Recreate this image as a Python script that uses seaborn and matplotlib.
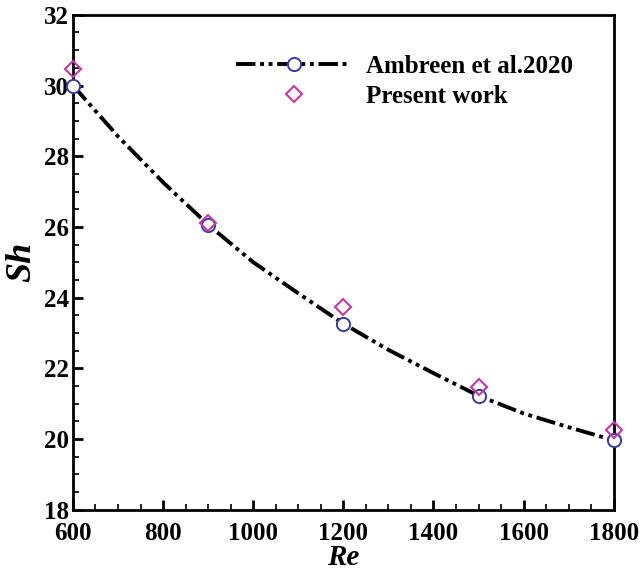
import matplotlib
matplotlib.use("Agg")
import matplotlib.pyplot as plt
from matplotlib.lines import Line2D
from matplotlib.ticker import MultipleLocator
import seaborn as sns
import pandas as pd

# Reference data (Ambreen et al. 2020) - markers
re_ref = [600, 900, 1200, 1500, 1800]
sh_ref = [30.0, 26.06, 23.26, 21.22, 19.96]

# Curve of the reference correlation
re_curve = [600, 700, 800, 900, 1000, 1100, 1200, 1300, 1400, 1500, 1600, 1700, 1800]
sh_curve = [30.0, 28.56, 27.26, 26.06, 25.0, 24.12, 23.26, 22.52, 21.86, 21.22, 20.72, 20.33, 19.96]

# Present work
re_pw = [600, 900, 1200, 1500, 1800]
sh_pw = [30.48, 26.12, 23.74, 21.48, 20.24]

sns.set_style("ticks")
plt.rcParams['font.family'] = ['Liberation Serif', 'DejaVu Serif']
plt.rcParams['font.weight'] = 'bold'
plt.rcParams['text.color'] = 'black'
plt.rcParams['axes.labelcolor'] = 'black'
plt.rcParams['xtick.color'] = 'black'
plt.rcParams['ytick.color'] = 'black'
plt.rcParams['axes.edgecolor'] = 'black'

fig = plt.figure(figsize=(6.4, 5.7), dpi=100)
ax = fig.add_axes([0.114, 0.106, 0.845, 0.868])

ls = (0, (5, 1.2, 1, 1.2, 1, 1.2))
blue = "#3a3aa0"
mag = "#c03aa0"

df_curve = pd.DataFrame({"Re": re_curve, "Sh": sh_curve})
sns.lineplot(data=df_curve, x="Re", y="Sh", ax=ax, color="black", lw=2.8,
             linestyle=ls, sort=True, legend=False)

ax.plot(re_ref, sh_ref, linestyle="none", marker="o", ms=9.5, mfc="white",
        mec=blue, mew=1.4, zorder=3)
ax.plot(re_pw, sh_pw, linestyle="none", marker="D", ms=8, mfc="none",
        mec=mag, mew=1.5, zorder=4)
for l in ax.lines[-2:]:
    l.set_clip_on(False)

ax.set_xlim(600, 1800)
ax.set_ylim(18, 32)
ax.xaxis.set_major_locator(MultipleLocator(200))
ax.xaxis.set_minor_locator(MultipleLocator(50))
ax.yaxis.set_major_locator(MultipleLocator(2))
ax.yaxis.set_minor_locator(MultipleLocator(0.5))
ax.tick_params(axis='both', which='major', direction='in', length=7, width=2,
               labelsize=18, top=False, right=False)
ax.tick_params(axis='x', which='major', pad=9)
ax.tick_params(axis='y', which='major', pad=3)
ax.tick_params(axis='both', which='minor', direction='in', length=4, width=1.2,
               top=False, right=False)
for lab in ax.get_xticklabels() + ax.get_yticklabels():
    lab.set_fontweight('bold')
for sp in ax.spines.values():
    sp.set_linewidth(2)
    sp.set_visible(True)

ax.set_xlabel("Re", fontsize=21, fontweight='bold', fontstyle='italic', labelpad=-1)
ax.set_ylabel("Sh", fontsize=26, fontweight='bold', fontstyle='italic', labelpad=4)

h1 = Line2D([], [], color="black", lw=2.8, linestyle=ls, marker="o", ms=9.5,
            mfc="white", mec=blue, mew=1.4)
h2 = Line2D([], [], linestyle="none", marker="D", ms=8, mfc="none", mec=mag, mew=1.5)
ax.legend([h1, h2], ["Ambreen et al.2020", "Present work"], frameon=False,
          loc="upper left", bbox_to_anchor=(0.27, 0.955), handlelength=4.6,
          prop={'size': 18, 'weight': 'bold'}, labelspacing=0.3, handletextpad=0.6,
          borderpad=0.2)

fig.savefig("out.png", dpi=100)
